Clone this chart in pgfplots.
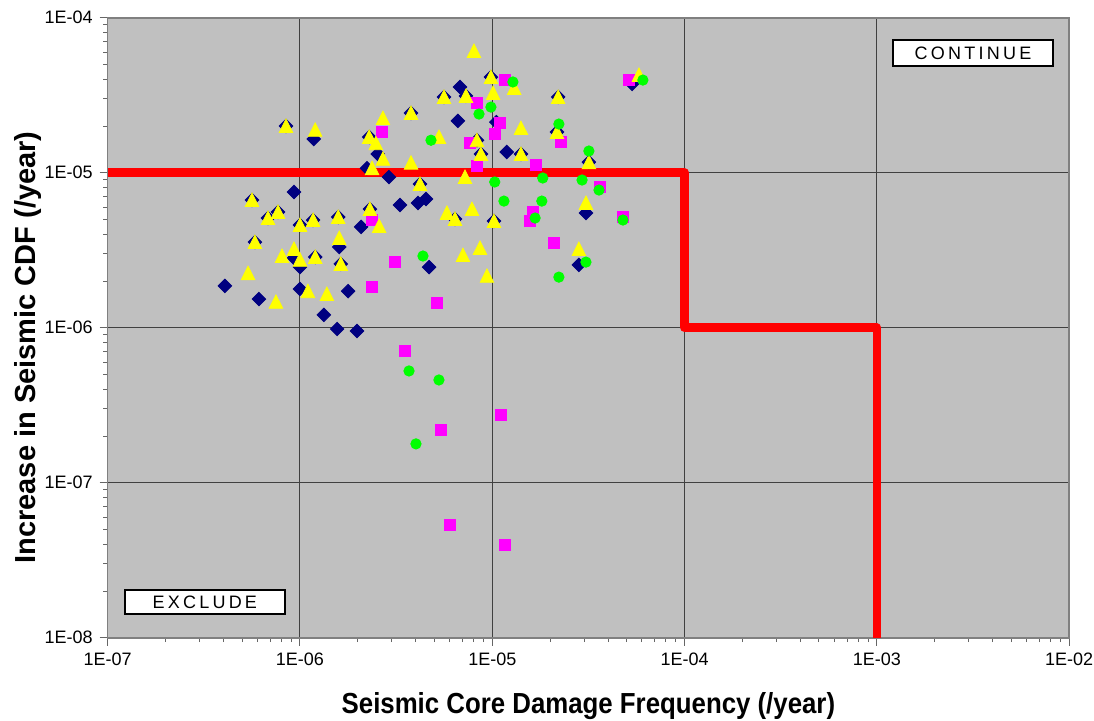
\documentclass[border=0pt]{standalone}
\usepackage{fontspec}
\setmainfont{Liberation Sans}
\setsansfont{Liberation Sans}
\usepackage{pgfplots}
\pgfplotsset{compat=1.18}

\definecolor{plotgray}{RGB}{192,192,192}
\definecolor{navy}{RGB}{0,0,128}
\definecolor{xlyellow}{RGB}{255,255,0}
\definecolor{xlmagenta}{RGB}{255,0,255}
\definecolor{xlgreen}{RGB}{0,255,0}

\begin{document}
\begin{tikzpicture}
\path[use as bounding box] (-53.85pt,-41.65pt) rectangle (493.15pt,318.85pt);
\begin{loglogaxis}[
  scale only axis,
  width=480.75pt, height=310pt,
  at={(0,0)}, anchor=south west,
  xmin=1e-7, xmax=1e-2, ymin=1e-8, ymax=1e-4,
  xtick={1e-7,1e-6,1e-5,1e-4,1e-3,1e-2},
  xticklabels={1E-07,1E-06,1E-05,1E-04,1E-03,1E-02},
  ytick={1e-8,1e-7,1e-6,1e-5,1e-4},
  yticklabels={1E-08,1E-07,1E-06,1E-05,1E-04},
  minor xtick={2e-7,3e-7,4e-7,5e-7,6e-7,7e-7,8e-7,9e-7,
               2e-6,3e-6,4e-6,5e-6,6e-6,7e-6,8e-6,9e-6,
               2e-5,3e-5,4e-5,5e-5,6e-5,7e-5,8e-5,9e-5,
               2e-4,3e-4,4e-4,5e-4,6e-4,7e-4,8e-4,9e-4,
               2e-3,3e-3,4e-3,5e-3,6e-3,7e-3,8e-3,9e-3},
  minor ytick={2e-8,3e-8,4e-8,5e-8,6e-8,7e-8,8e-8,9e-8,
               2e-7,3e-7,4e-7,5e-7,6e-7,7e-7,8e-7,9e-7,
               2e-6,3e-6,4e-6,5e-6,6e-6,7e-6,8e-6,9e-6,
               2e-5,3e-5,4e-5,5e-5,6e-5,7e-5,8e-5,9e-5},
  tick pos=left, tick align=outside,
  major tick length=4pt, minor tick length=2.2pt,
  tick style={black!60, line width=0.5pt},
  grid=major, major grid style={black!75, line width=0.5pt},
  minor grid style={draw=none},
  axis background/.style={fill=plotgray},
  axis line style={black!50, line width=0.8pt},
  ticklabel style={font=\fontsize{9}{10}\selectfont},
  xlabel={Seismic Core Damage Frequency (/year)},
  ylabel={Increase in Seismic CDF (/year)},
  xlabel style={at={(axis description cs:0.5,-0.11)}, anchor=center,
    font=\bfseries\fontsize{14.5}{16}\selectfont, xscale=0.89},
  ylabel style={at={(axis description cs:-0.083,0.468)}, anchor=center,
    font=\bfseries\fontsize{14.5}{16}\selectfont},
]
% navy diamonds (first ones stand alone, the rest sit under triangles)
\addplot[only marks, color=navy, mark=square*, mark size=2.4pt,
  mark options={rotate=45, fill=navy, draw=navy}] coordinates {
  (6.79e-6,3.57e-5) (6.63e-6,2.16e-5) (2.54e-6,1.32e-5) (2.23e-6,1.07e-5)
  (2.90e-6,9.38e-6) (1.05e-5,2.12e-5) (1.19e-5,1.36e-5) (5.33e-5,3.74e-5)
  (9.31e-7,7.50e-6) (1.18e-6,1.65e-5) (9.31e-7,2.82e-6) (1.00e-6,2.46e-6)
  (1.60e-6,3.32e-6) (4.07e-7,1.86e-6) (6.12e-7,1.53e-6) (1.00e-6,1.78e-6)
  (1.78e-6,1.72e-6) (1.33e-6,1.21e-6) (1.56e-6,9.81e-7) (1.98e-6,9.53e-7)
  (2.08e-6,4.47e-6) (3.31e-6,6.19e-6) (4.11e-6,6.38e-6) (4.52e-6,6.76e-6)
  (4.69e-6,2.46e-6) (3.07e-5,5.50e-6) (2.82e-5,2.54e-6)
  (9.84e-6,4.14e-5) (5.61e-6,3.08e-5) (7.30e-6,3.13e-5) (2.20e-5,3.08e-5)
  (3.78e-6,2.43e-5) (2.29e-6,1.70e-5) (4.21e-6,8.45e-6) (8.32e-6,1.62e-5)
  (8.73e-6,1.32e-5) (1.41e-5,1.32e-5) (2.17e-5,1.83e-5) (3.18e-5,1.17e-5)
  (8.46e-7,2.00e-5) (5.63e-7,6.66e-6) (6.82e-7,5.10e-6) (7.69e-7,5.58e-6)
  (1.00e-6,4.60e-6) (1.17e-6,4.95e-6) (1.58e-6,5.18e-6) (5.83e-7,3.57e-6)
  (1.20e-6,2.86e-6) (1.63e-6,2.58e-6) (2.31e-6,5.83e-6) (6.40e-6,5.03e-6)
  (1.02e-5,4.88e-6)
};
% magenta squares
\addplot[only marks, color=xlmagenta, mark=square*, mark size=2.8pt,
  mark options={fill=xlmagenta, draw=xlmagenta}] coordinates {
  (1.16e-5,3.96e-5) (5.14e-5,3.96e-5) (8.32e-6,2.82e-5) (2.67e-6,1.83e-5)
  (7.66e-6,1.55e-5) (8.32e-6,1.10e-5) (1.10e-5,2.09e-5) (1.03e-5,1.78e-5)
  (1.69e-5,1.12e-5) (2.28e-5,1.58e-5) (3.63e-5,8.09e-6) (2.37e-6,4.95e-6)
  (1.63e-5,5.58e-6) (1.57e-5,4.88e-6) (4.78e-5,5.18e-6) (2.09e-5,3.52e-6)
  (3.12e-6,2.65e-6) (2.37e-6,1.83e-6) (5.16e-6,1.44e-6) (3.52e-6,7.08e-7)
  (1.11e-5,2.73e-7) (5.41e-6,2.19e-7) (6.03e-6,5.33e-8) (1.16e-5,3.96e-8)
};
% yellow triangles
\addplot[only marks, color=xlyellow, mark=triangle*, mark size=3.9pt,
  mark options={fill=xlyellow, draw=xlyellow, yshift=-1pt, yscale=1.15}] coordinates {
  (8.03e-6,6.10e-5) (9.84e-6,4.14e-5) (5.61e-6,3.08e-5) (7.30e-6,3.13e-5)
  (1.01e-5,3.27e-5) (1.30e-5,3.52e-5) (2.20e-5,3.08e-5) (3.78e-6,2.43e-5)
  (2.70e-6,2.25e-5) (2.29e-6,1.70e-5) (2.48e-6,1.55e-5) (2.70e-6,1.23e-5)
  (2.37e-6,1.07e-5) (3.78e-6,1.16e-5) (4.21e-6,8.45e-6) (5.28e-6,1.70e-5)
  (8.32e-6,1.62e-5) (8.73e-6,1.32e-5) (7.21e-6,9.38e-6) (1.41e-5,1.94e-5)
  (1.41e-5,1.32e-5) (2.17e-5,1.83e-5) (3.18e-5,1.17e-5) (8.46e-7,2.00e-5)
  (1.20e-6,1.89e-5) (5.63e-7,6.66e-6) (6.82e-7,5.10e-6) (7.69e-7,5.58e-6)
  (1.00e-6,4.60e-6) (1.17e-6,4.95e-6) (1.58e-6,5.18e-6) (5.83e-7,3.57e-6)
  (8.06e-7,2.90e-6) (9.31e-7,3.22e-6) (1.00e-6,2.74e-6) (1.20e-6,2.86e-6)
  (1.60e-6,3.79e-6) (1.63e-6,2.58e-6) (5.37e-7,2.25e-6) (7.50e-7,1.47e-6)
  (1.10e-6,1.72e-6) (1.38e-6,1.65e-6) (2.31e-6,5.83e-6) (2.58e-6,4.53e-6)
  (5.81e-6,5.50e-6) (6.40e-6,5.03e-6) (7.84e-6,5.83e-6) (1.02e-5,4.88e-6)
  (7.04e-6,2.94e-6) (8.63e-6,3.27e-6) (9.38e-6,2.16e-6) (3.07e-5,6.38e-6)
  (2.82e-5,3.22e-6) (5.79e-5,4.27e-5)
};
% green circles
\addplot[only marks, color=xlgreen, mark=*, mark size=2.6pt,
  mark options={fill=xlgreen, draw=xlgreen}] coordinates {
  (1.28e-5,3.85e-5) (6.07e-5,3.96e-5) (9.84e-6,2.65e-5) (8.53e-6,2.39e-5)
  (4.80e-6,1.62e-5) (2.22e-5,2.06e-5) (3.18e-5,1.38e-5) (1.03e-5,8.71e-6)
  (1.83e-5,9.24e-6) (2.93e-5,8.97e-6) (3.59e-5,7.73e-6) (1.15e-5,6.56e-6)
  (1.81e-5,6.56e-6) (1.67e-5,5.10e-6) (4.78e-5,4.95e-6) (4.36e-6,2.90e-6)
  (3.07e-5,2.65e-6) (2.22e-5,2.12e-6) (3.69e-6,5.26e-7) (5.28e-6,4.60e-7)
  (4.01e-6,1.78e-7)
};
% screening criterion
\addplot[color=red, line width=4.3pt, line join=round, mark=none] coordinates {
  (1e-7,1e-5) (1e-4,1e-5) (1e-4,1e-6) (1e-3,1e-6) (1e-3,1e-8)
};
\node[draw=black, line width=1pt, fill=white, minimum width=80pt, minimum height=13pt,
  inner sep=0pt, font=\fontsize{9}{10}\selectfont\addfontfeature{LetterSpace=18}]
  at (rel axis cs:0.900,0.943) {CONTINUE};
\node[draw=black, line width=1pt, fill=white, minimum width=80pt, minimum height=12pt,
  inner sep=0pt, font=\fontsize{9}{10}\selectfont\addfontfeature{LetterSpace=18}]
  at (rel axis cs:0.101,0.0576) {EXCLUDE};
\end{loglogaxis}
\end{tikzpicture}
\end{document}
